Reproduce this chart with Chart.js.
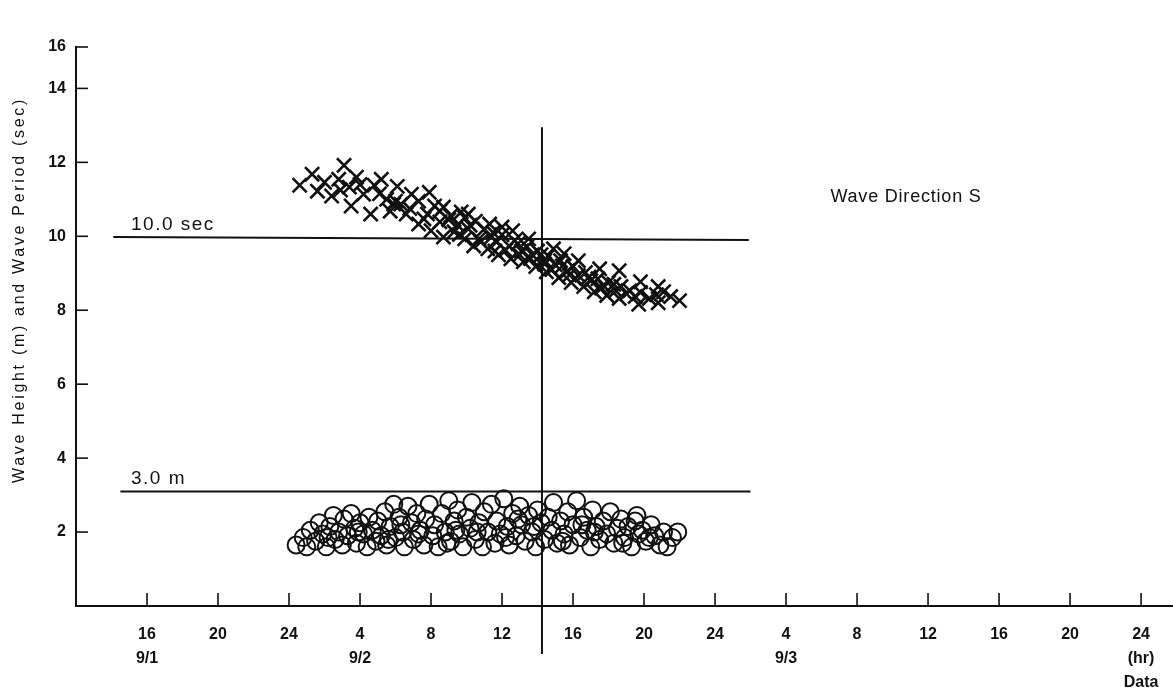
<!DOCTYPE html>
<html lang="en">
<head>
    <meta charset="UTF-8">
    <title>Wave Height and Wave Period</title>
    <script src="https://cdn.jsdelivr.net/npm/chart.js"></script>
    <style>
        body {
            margin: 0;
            background: #fff;
            font-family: "Liberation Sans", Arial, sans-serif;
        }
        #wrap {
            width: 1173px;
            height: 689px;
        }
    </style>
</head>
<body>
    <div id="wrap">
        <canvas id="waveChart"></canvas>
    </div>

    <script>
        // hours counted from 9/1 00:00
        const xTickHours = [16, 20, 24, 28, 32, 36, 40, 44, 48, 52, 56, 60, 64, 68, 72];
        const xTickLabels = [['16', '9/1'], '20', '24', ['4', '9/2'], '8', '12', '16', '20', '24',
                             ['4', '9/3'], '8', '12', '16', '20', ['24', '(hr)', 'Data']];
        // the top label of the original is drawn lower than its true place
        const yTickValues = [2, 4, 6, 8, 10, 12, 14, 15.12];
        const yTickLabels = ['2', '4', '6', '8', '10', '12', '14', '16'];

        // wave period (sec), crosses
        const periodHours = [24.6, 25.3, 25.6, 26.0, 26.4, 26.8, 27.1, 27.4, 27.5, 27.8, 28.2, 28.6, 28.8, 29.2, 29.5, 29.7,
            30.1, 30.3, 30.6, 30.9, 31.3, 31.6, 31.9, 32.2, 32.5, 32.7, 33.1, 33.5, 33.7, 34.1, 34.5, 34.7,
            35.0, 35.4, 35.7, 36.0, 36.4, 36.7, 37.1, 37.4, 37.7, 38.0, 38.4, 38.6, 39.0, 39.3, 39.7, 40.0,
            40.3, 40.7, 41.0, 41.4, 41.7, 42.0, 42.4, 42.7, 43.2, 43.5, 43.8, 44.3, 44.7, 45.1, 45.5, 46.0,
            31.3, 32.0, 32.7, 33.3, 33.9, 34.4, 35.2, 35.8, 36.5, 37.2, 37.9, 38.5, 39.2, 39.9, 40.6, 41.2,
            41.9, 42.6, 43.7, 44.8, 29.9, 32.5, 34.1, 35.3, 36.6, 37.5, 38.9, 39.5, 40.3, 41.5, 42.6, 43.8, 44.8,
            33.0, 33.6, 34.2, 34.8, 35.5, 36.2, 36.9, 37.6, 38.2, 38.8, 39.4, 40.1, 40.9, 41.6, 42.3, 43.0,
            30.0, 30.8, 31.8, 28.0, 26.9, 29.1, 35.6, 37.0, 38.4, 39.8, 36.0, 33.9];
        const periodSec = [11.38, 11.68, 11.22, 11.46, 11.09, 11.54, 11.92, 11.33, 10.82, 11.6, 11.14, 10.6, 11.38, 11.54, 11.0, 10.68,
            11.35, 10.87, 10.6, 11.14, 10.95, 10.47, 11.19, 10.82, 10.39, 10.79, 10.55, 10.3, 10.66, 10.2, 10.41, 9.93,
            10.2, 9.98, 9.85, 10.04, 9.74, 9.88, 9.6, 9.72, 9.5, 9.6, 9.34, 9.47, 9.23, 9.34, 9.07, 9.18,
            8.94, 9.02, 8.8, 8.85, 8.67, 8.75, 8.53, 8.64, 8.53, 8.37, 8.48, 8.32, 8.42, 8.5, 8.37, 8.26,
            10.33, 10.15, 9.98, 10.12, 9.93, 9.74, 9.66, 9.5, 9.39, 9.31, 9.18, 9.04, 8.88, 8.75, 8.64, 8.5,
            8.4, 8.32, 8.16, 8.2, 10.87, 10.68, 10.6, 10.33, 10.15, 9.93, 9.66, 9.53, 9.34, 9.12, 9.07, 8.77, 8.64,
            10.45, 10.05, 10.3, 9.85, 10.1, 9.62, 9.8, 9.4, 9.5, 9.1, 9.2, 8.85, 8.9, 8.6, 8.7, 8.45,
            10.95, 10.75, 10.6, 11.4, 11.25, 11.15, 9.6, 9.5, 9.25, 8.95, 10.25, 10.5];

        // wave height (m), circles
        const heightHours = [24.4, 24.8, 25.0, 25.2, 25.5, 25.7, 25.9, 26.1, 26.3, 26.5, 26.6, 26.8, 27.0, 27.1, 27.3, 27.5,
            27.7, 27.8, 28.0, 28.2, 28.4, 28.5, 28.7, 28.9, 29.0, 29.2, 29.4, 29.5, 29.7, 29.9, 30.0, 30.2,
            30.4, 30.5, 30.7, 30.9, 31.0, 31.2, 31.4, 31.6, 31.7, 31.9, 32.1, 32.2, 32.4, 32.6, 32.8, 33.0,
            33.1, 33.3, 33.5, 33.6, 33.8, 34.0, 34.2, 34.3, 34.5, 34.7, 34.9, 35.0, 35.2, 35.4, 35.6, 35.7,
            35.9, 36.1, 36.3, 36.4, 36.6, 36.8, 37.0, 37.1, 37.3, 37.5, 37.7, 37.9, 38.0, 38.2, 38.4, 38.6,
            38.8, 38.9, 39.1, 39.3, 39.5, 39.7, 39.8, 40.0, 40.2, 40.4, 40.6, 40.8, 41.0, 41.1, 41.3, 41.5,
            41.7, 41.9, 42.1, 42.3, 42.5, 42.7, 42.9, 43.1, 43.3, 43.5, 43.7, 43.9, 44.1, 44.4, 44.6, 44.9,
            45.1, 45.3, 45.6, 45.9,
            26.2, 27.9, 29.6, 31.3, 32.9, 34.6, 36.2, 37.8, 39.4, 41.2, 42.8, 44.3, 30.3, 33.4, 36.9, 40.5, 43.6];
        const heightM = [1.65, 1.85, 1.6, 2.05, 1.75, 2.25, 1.95, 1.6, 2.15, 2.45, 1.8, 2.0, 1.65, 2.35, 1.9, 2.5,
            2.1, 1.7, 2.25, 1.95, 1.6, 2.4, 2.05, 1.75, 2.3, 1.9, 2.55, 1.65, 2.15, 2.75, 1.85, 2.4,
            2.0, 1.6, 2.7, 2.25, 1.8, 2.5, 2.05, 1.65, 2.35, 2.75, 1.9, 2.2, 1.6, 2.5, 2.0, 2.85,
            1.75, 2.3, 2.6, 1.95, 1.6, 2.4, 2.1, 2.8, 1.8, 2.25, 1.6, 2.55, 2.0, 2.75, 1.7, 2.3,
            1.95, 2.9, 2.15, 1.65, 2.5, 1.9, 2.7, 2.2, 1.75, 2.45, 2.0, 1.6, 2.6, 2.25, 1.8, 2.4,
            2.05, 2.8, 1.7, 2.3, 1.95, 2.55, 1.65, 2.2, 2.85, 1.85, 2.4, 2.05, 1.6, 2.6, 2.15, 1.8,
            2.3, 1.95, 2.55, 1.7, 2.1, 2.35, 1.85, 2.15, 1.6, 2.3, 1.95, 2.05, 1.75, 2.2, 1.9, 1.65,
            2.0, 1.6, 1.85, 2.0,
            1.85, 2.0, 1.8, 1.95, 1.7, 2.0, 1.85, 2.15, 1.75, 2.0, 1.7, 1.85, 2.2, 2.05, 2.35, 2.2, 2.45];

        // reference lines
        const periodRefLine = [[14.1, 9.98], [49.9, 9.9]];
        const heightRefLine = [[14.5, 3.1], [50.0, 3.1]];
        const timeMarkLine = [[38.25, 12.95], [38.25, -1.3]];

        const notes = [
            { text: '10.0 sec', x: 15.1, y: 10.3, size: 19, spacing: 1.5 },
            { text: '3.0 m', x: 15.1, y: 3.45, size: 19, spacing: 1.5 },
            { text: 'Wave Direction S', x: 54.5, y: 11.06, size: 18, spacing: 0.8 }
        ];

        const toPoints = (xs, ys) => xs.map((x, i) => ({ x: x, y: ys[i] }));
        const pairs = arr => arr.map(p => ({ x: p[0], y: p[1] }));

        const inkColor = '#111';
        const fontFamily = '"Liberation Sans", Arial, sans-serif';

        // tick marks point inward, plus free text
        const paperPlugin = {
            id: 'paper',
            afterDraw(chart) {
                const ctx = chart.ctx;
                const xs = chart.scales.x;
                const ys = chart.scales.y;
                const area = chart.chartArea;
                ctx.save();
                ctx.strokeStyle = inkColor;
                ctx.lineWidth = 1.6;
                ys.ticks.forEach(t => {
                    const py = ys.getPixelForValue(t.value);
                    ctx.beginPath();
                    ctx.moveTo(area.left, py);
                    ctx.lineTo(area.left + 12, py);
                    ctx.stroke();
                });
                xs.ticks.forEach(t => {
                    const px = xs.getPixelForValue(t.value);
                    ctx.beginPath();
                    ctx.moveTo(px, area.bottom);
                    ctx.lineTo(px, area.bottom - 13);
                    ctx.stroke();
                });

                ctx.fillStyle = inkColor;
                ctx.textBaseline = 'middle';
                ctx.textAlign = 'left';
                notes.forEach(n => {
                    ctx.font = n.size + 'px ' + fontFamily;
                    ctx.letterSpacing = n.spacing + 'px';
                    ctx.fillText(n.text, xs.getPixelForValue(n.x), ys.getPixelForValue(n.y));
                });

                ctx.translate(20, 290);
                ctx.rotate(-Math.PI / 2);
                ctx.textAlign = 'center';
                ctx.font = '16px ' + fontFamily;
                ctx.letterSpacing = '2.7px';
                ctx.fillText('Wave Height (m) and Wave Period (sec)', 0, 0);
                ctx.restore();
            }
        };

        const lineStyle = {
            type: 'line',
            borderColor: inkColor,
            borderWidth: 2,
            pointRadius: 0,
            fill: false,
            clip: false
        };

        new Chart(document.getElementById('waveChart'), {
            type: 'scatter',
            data: {
                datasets: [
                    Object.assign({ label: 'period line', data: pairs(periodRefLine) }, lineStyle),
                    Object.assign({ label: 'height line', data: pairs(heightRefLine) }, lineStyle),
                    Object.assign({ label: 'time mark', data: pairs(timeMarkLine) }, lineStyle),
                    {
                        label: 'Wave Period (sec)',
                        data: toPoints(periodHours, periodSec),
                        pointStyle: 'crossRot',
                        pointRadius: 10,
                        borderWidth: 2.6,
                        borderColor: inkColor
                    },
                    {
                        label: 'Wave Height (m)',
                        data: toPoints(heightHours, heightM),
                        pointStyle: 'circle',
                        pointRadius: 8.5,
                        borderWidth: 2,
                        borderColor: inkColor,
                        backgroundColor: 'rgba(255,255,255,0)'
                    }
                ]
            },
            options: {
                responsive: true,
                maintainAspectRatio: false,
                animation: false,
                layout: {
                    autoPadding: false,
                    padding: { top: 47, right: 0, left: 0, bottom: 0 }
                },
                plugins: {
                    legend: { display: false },
                    tooltip: { enabled: false }
                },
                scales: {
                    x: {
                        type: 'linear',
                        min: 12,
                        max: 73.8,
                        afterBuildTicks: scale => {
                            scale.ticks = xTickHours.map(v => ({ value: v }));
                        },
                        afterFit: scale => {
                            scale.height = 83;
                            scale.paddingLeft = 0;
                            scale.paddingRight = 0;
                        },
                        grid: {
                            display: true,
                            drawOnChartArea: false,
                            drawTicks: true,
                            tickLength: 14,
                            tickColor: 'rgba(0,0,0,0)'
                        },
                        border: { display: true, color: inkColor, width: 2 },
                        ticks: {
                            padding: 3,
                            maxRotation: 0,
                            autoSkip: false,
                            color: inkColor,
                            font: { family: fontFamily, size: 16, weight: 'bold', lineHeight: 1.5 },
                            callback: (value) => {
                                const i = xTickHours.indexOf(value);
                                return i >= 0 ? xTickLabels[i] : '';
                            }
                        }
                    },
                    y: {
                        min: 0,
                        max: 15.12,
                        afterBuildTicks: scale => {
                            scale.ticks = yTickValues.map(v => ({ value: v }));
                        },
                        afterFit: scale => {
                            scale.width = 76;
                            scale.paddingTop = 0;
                            scale.paddingBottom = 0;
                        },
                        grid: { display: false, drawTicks: false },
                        border: { display: true, color: inkColor, width: 2 },
                        ticks: {
                            padding: 10,
                            autoSkip: false,
                            color: inkColor,
                            font: { family: fontFamily, size: 16, weight: 'bold' },
                            callback: (value) => {
                                const i = yTickValues.indexOf(value);
                                return i >= 0 ? yTickLabels[i] : '';
                            }
                        }
                    }
                }
            },
            plugins: [paperPlugin]
        });
    </script>
</body>
</html>
